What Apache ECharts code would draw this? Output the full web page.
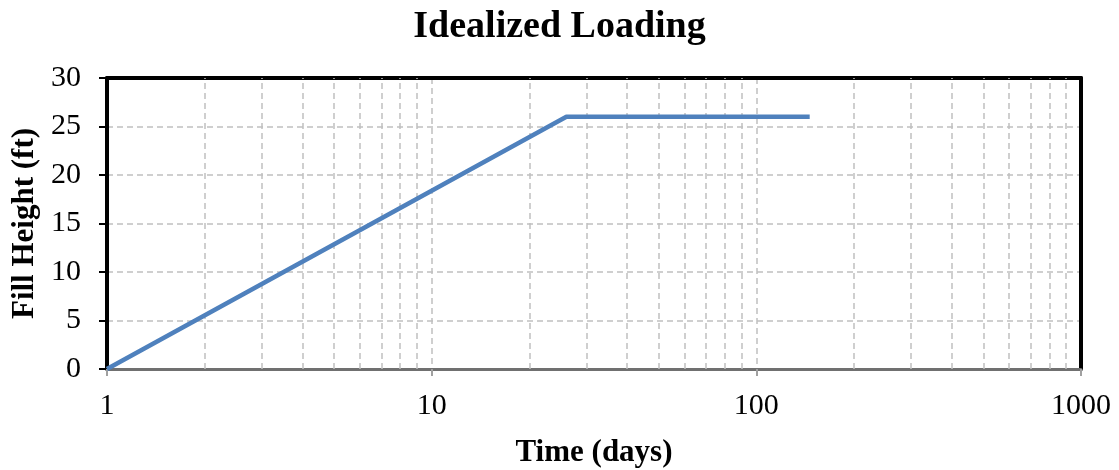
<!DOCTYPE html>
<html><head><meta charset="utf-8">
<script src="https://cdn.jsdelivr.net/npm/echarts@6/dist/echarts.min.js"></script>
<style>html,body{margin:0;padding:0;background:#fff}#c{width:1119px;height:470px}</style>
</head><body><div id="c"></div>
<script>
const timeDays = [1, 26, 146];
const fillHeight = [0, 26, 26];
const minorTicks = [2,3,4,5,6,7,8,9,20,30,40,50,60,70,80,90,200,300,400,500,600,700,800,900];

const font = 'Liberation Serif, Times New Roman, serif';
const dash = { color: '#c0c0c0', type: [6, 4], width: 1.5 };
const chart = echarts.init(document.getElementById('c'));
chart.setOption({
  animation: false,
  title: { text: 'Idealized Loading', left: 'center', top: 3,
    textStyle: { fontFamily: font, fontWeight: 'bold', fontSize: 38, color: '#000' } },
  grid: { left: 107, right: 38, top: 78, bottom: 101, containLabel: false, outerBoundsMode: 'none' },
  xAxis: [{
    type: 'log', logBase: 10, min: 1, max: 1000,
    name: 'Time (days)', nameLocation: 'middle', nameGap: 68,
    nameTextStyle: { fontFamily: font, fontWeight: 'bold', fontSize: 31, color: '#000' },
    axisLine: { onZero: false, lineStyle: { color: '#707070', width: 3 } },
    axisTick: { show: true, length: 7, lineStyle: { color: '#a0a0a0', width: 2 } },
    axisLabel: { fontFamily: font, fontSize: 30, color: '#000', margin: 22, formatter: v => String(v) },
    splitLine: { show: true, lineStyle: dash }
  }, {
    type: 'log', logBase: 10, min: 1, max: 1000, position: 'top',
    axisLine: { show: true, onZero: false, lineStyle: { color: '#000', width: 4 } },
    axisTick: { show: false }, axisLabel: { show: false }, splitLine: { show: false }
  }],
  yAxis: [{
    type: 'value', min: 0, max: 30, interval: 5,
    name: 'Fill Height (ft)', nameLocation: 'middle', nameGap: 64,
    nameTextStyle: { fontFamily: font, fontWeight: 'bold', fontSize: 31, color: '#000' },
    axisLine: { show: true, onZero: false, lineStyle: { color: '#000', width: 4 } },
    axisTick: { show: true, length: 8, lineStyle: { color: '#000', width: 2 } },
    axisLabel: { fontFamily: font, fontSize: 30, color: '#000', margin: 26 },
    splitLine: { show: true, lineStyle: dash }
  }, {
    type: 'value', min: 0, max: 30, interval: 5, position: 'right',
    axisLine: { show: true, onZero: false, lineStyle: { color: '#000', width: 4 } },
    axisTick: { show: false }, axisLabel: { show: false }, splitLine: { show: false }
  }],
  series: [
    {
      type: 'line', data: [], silent: true,
      markLine: { silent: true, symbol: 'none', label: { show: false },
        lineStyle: dash,
        data: minorTicks.map(v => ({ xAxis: v })) }
    },
    {
      type: 'line', data: timeDays.map((t, i) => [t, fillHeight[i]]),
      showSymbol: false, symbol: 'none',
      lineStyle: { color: '#4f81bd', width: 4.5 }, z: 5
    }
  ]
});
</script></body></html>
